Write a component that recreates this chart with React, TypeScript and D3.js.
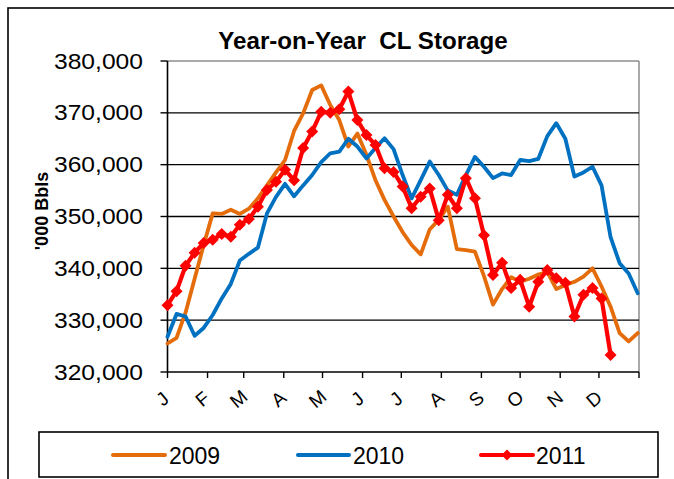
import React from "react";
import * as d3 from "d3";

const monthLabels = ["J", "F", "M", "A", "M", "J", "J", "A", "S", "O", "N", "D"];
const monthStartDays = [0, 31, 59, 90, 120, 151, 181, 212, 243, 273, 304, 334, 365];
const yTicks = [320000, 330000, 340000, 350000, 360000, 370000, 380000];
const seriesNames = ["2009", "2010", "2011"];
const seriesColors = ["#E46C0A", "#0070C0", "#FF0000"];

const s2009 = [
  325500, 326600, 331500, 338000, 344500, 350600, 350500, 351300, 350500, 351500,
  353500, 356000, 358500, 360900, 366500, 369900, 374400, 375300, 371500, 368600,
  363500, 366000, 361900, 357000, 353200, 350000, 347000, 344500, 342700, 347500,
  349400, 351900, 343700, 343500, 343200, 338500, 333000, 336000, 338300, 337400,
  338000, 338800, 339300, 336000, 336800, 337400, 338400, 340000, 336500, 332600,
  327500, 325900, 327500,
];

const s2010 = [
  326800, 331200, 330700, 327000, 328500, 331000, 334200, 337000, 341500, 342800,
  344000, 350600, 353800, 356300, 353900, 356000, 358000, 360500, 362200, 362500,
  365000, 363500, 361200, 363200, 365100, 363000, 358000, 353500, 357000, 360600,
  358000, 355000, 354200, 358000, 361500, 359600, 357400, 358300, 358000, 360900,
  360700, 361100, 365500, 368000, 365000, 357700, 358500, 359600, 356000, 346000,
  341000, 339000, 335200,
];

const s2011 = [
  332900, 335600, 340500, 343000, 344900, 345500, 346600, 346100, 348400, 349500,
  351900, 355100, 356700, 359000, 357000, 363200, 366400, 370200, 370000, 370700,
  374100, 368600, 365700, 363800, 359300, 358600, 355800, 351600, 353800, 355400,
  349300, 354200, 351600, 357400, 353500, 346400, 338700, 341100, 336200, 337800,
  332600, 337400, 339700, 338100, 337200, 330700, 334900, 336200, 334200, 323300,
];

const FONT = "Liberation Sans, Arial, sans-serif";

export default function App() {
  const W = 674;
  const H = 479;
  const left = 167.5;
  const right = 639;
  const top = 61;
  const bottom = 372;

  const x = d3.scaleLinear().domain([0, 365]).range([left, right]);
  const y = d3.scaleLinear().domain([320000, 380000]).range([bottom, top]);

  const line = d3
    .line<number>()
    .x((_, i) => x(i * 7))
    .y((d) => y(d));

  const allSeries = [s2009, s2010, s2011];
  const diamond = (r: number) => `M0,${-r}L${r},0L0,${r}L${-r},0Z`;

  const legendItems = [
    { x1: 113, x2: 165, tx: 169 },
    { x1: 298, x2: 349, tx: 353 },
    { x1: 481, x2: 533, tx: 536 },
  ];

  return (
    <svg
      width={W}
      height={H}
      style={{ position: "absolute", left: 0, top: 0, background: "#fff" }}
      fontFamily={FONT}
    >
      <rect x={0} y={0} width={W} height={H} fill="#fff" />
      {/* outer chart border */}
      <rect x={8} y={8} width={720} height={520} fill="none" stroke="#000" strokeWidth={1.6} />

      {/* title */}
      <text
        transform="translate(363, 49) scale(1.05, 1)"
        textAnchor="middle"
        fontSize={23}
        fontWeight="bold"
        fill="#000"
      >
        Year-on-Year&#160;&#160;CL Storage
      </text>

      {/* plot frame top & right */}
      <line x1={left} x2={right} y1={top} y2={top} stroke="#8c8c8c" strokeWidth={1.5} />
      <line x1={right} x2={right} y1={top} y2={bottom} stroke="#8c8c8c" strokeWidth={1.5} />

      {/* gridlines */}
      {yTicks
        .filter((t) => t !== 320000 && t !== 380000)
        .map((t) => (
          <line key={t} x1={left} x2={right} y1={y(t)} y2={y(t)} stroke="#000" strokeWidth={1.4} />
        ))}

      {/* y axis */}
      <line x1={left} x2={left} y1={top} y2={bottom} stroke="#000" strokeWidth={1.6} />
      {yTicks.map((t) => (
        <g key={t}>
          <line x1={left - 7} x2={left} y1={y(t)} y2={y(t)} stroke="#000" strokeWidth={1.4} />
          <text
            transform={`translate(143, ${y(t)}) scale(1.12, 1)`}
            textAnchor="end"
            dominantBaseline="central"
            fontSize={22}
            fill="#000"
          >
            {d3.format(",")(t)}
          </text>
        </g>
      ))}
      <text
        transform={`translate(42, 211) rotate(-90)`}
        textAnchor="middle"
        dominantBaseline="central"
        fontSize={18}
        fontWeight="bold"
        fill="#000"
      >
        '000 Bbls
      </text>

      {/* x axis */}
      <line x1={left} x2={right} y1={bottom} y2={bottom} stroke="#000" strokeWidth={1.6} />
      {monthStartDays.map((d) => (
        <line key={d} x1={x(d)} x2={x(d)} y1={bottom} y2={bottom + 6} stroke="#000" strokeWidth={1.4} />
      ))}
      {monthLabels.map((m, i) => (
        <text
          key={i}
          transform={`translate(${x(monthStartDays[i]) - 5}, 399) rotate(-40)`}
          textAnchor="middle"
          dominantBaseline="central"
          fontSize={19}
          fill="#000"
        >
          {m}
        </text>
      ))}

      {/* series */}
      {allSeries.map((s, k) => (
        <path
          key={k}
          d={line(s) || ""}
          fill="none"
          stroke={seriesColors[k]}
          strokeWidth={k === 2 ? 4.2 : 3.8}
          strokeLinejoin="round"
          strokeLinecap="round"
        />
      ))}
      {s2011.map((v, i) => (
        <path
          key={i}
          d={diamond(6)}
          transform={`translate(${x(i * 7)}, ${y(v)})`}
          fill={seriesColors[2]}
        />
      ))}

      {/* legend */}
      <rect x={39} y={432} width={619} height={45} fill="none" stroke="#000" strokeWidth={1.6} />
      {legendItems.map((it, k) => (
        <g key={k}>
          <line
            x1={it.x1}
            x2={it.x2}
            y1={455}
            y2={455}
            stroke={seriesColors[k]}
            strokeWidth={4}
            strokeLinecap="round"
          />
          {k === 2 && (
            <path d={diamond(5.5)} transform={`translate(${(it.x1 + it.x2) / 2}, 455)`} fill={seriesColors[2]} />
          )}
          <text x={it.tx} y={463.5} fontSize={23} fill="#000">
            {seriesNames[k]}
          </text>
        </g>
      ))}
    </svg>
  );
}
